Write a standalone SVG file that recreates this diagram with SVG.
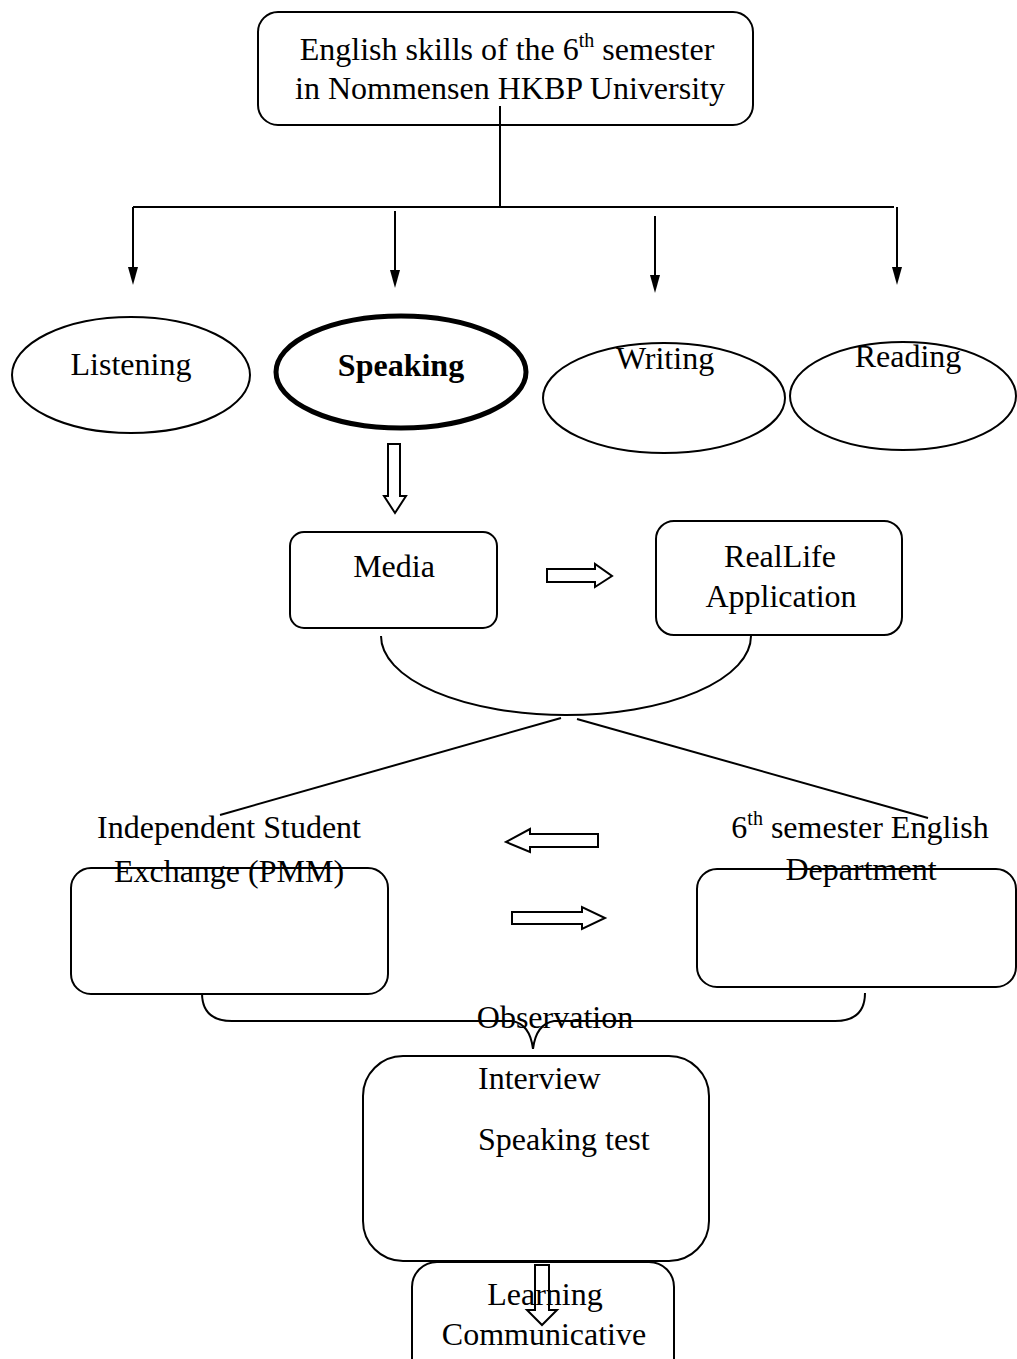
<svg xmlns="http://www.w3.org/2000/svg" width="1017" height="1359" viewBox="0 0 1017 1359">
<style>
text{font-family:"Liberation Serif","Times New Roman",serif;font-size:32px;fill:#000}
.c{text-anchor:middle}
.box{fill:none;stroke:#000;stroke-width:2}
.ln{fill:none;stroke:#000;stroke-width:2}
.hol{fill:#fff;stroke:#000;stroke-width:2}
</style>
<rect width="1017" height="1359" fill="#fff"/>

<g id="connectors">
<line class="ln" x1="500" y1="106" x2="500" y2="207"/>
<line class="ln" x1="133" y1="207" x2="894" y2="207"/>
<line class="ln" x1="133" y1="207" x2="133" y2="267" />
<path d="M128,267 L138,267 L133,285 Z" fill="#000"/>
<line class="ln" x1="395" y1="211" x2="395" y2="270"/>
<path d="M390,270 L400,270 L395,288 Z" fill="#000"/>
<line class="ln" x1="655" y1="216" x2="655" y2="275"/>
<path d="M650,275 L660,275 L655,293 Z" fill="#000"/>
<line class="ln" x1="897" y1="207" x2="897" y2="267"/>
<path d="M892,267 L902,267 L897,285 Z" fill="#000"/>
<polygon class="hol" points="388,444 400,444 400,496 406,496 395,513 384,496 388,496"/>
<polygon class="hol" points="547,569 595,569 595,564 612,576 595,587 595,582 547,582"/>
<path class="ln" d="M381,636 A185,79 0 0 0 751,636"/>
<line class="ln" x1="561" y1="718" x2="220" y2="815"/>
<line class="ln" x1="577" y1="719" x2="928" y2="818"/>
<polygon class="hol" points="598,834 530,834 530,829 506,842 530,852 530,847 598,847"/>
<polygon class="hol" points="512,912 582,912 582,907 605,918 582,929 582,924 512,924"/>
<path class="ln" d="M202,993 Q202,1021 232,1021 L512,1021 Q530,1024 533,1049 Q536,1024 554,1021 L835,1021 Q865,1021 865,993"/>
</g>

<g id="n-top">
<rect class="box" x="258" y="12" width="495" height="113" rx="20"/>
<text class="c" x="507" y="60">English skills of the 6<tspan font-size="20" dy="-13">th</tspan><tspan dy="13"> semester</tspan></text>
<text class="c" x="510" y="99">in Nommensen HKBP University</text>
</g>

<g id="n-listening">
<ellipse class="box" cx="131" cy="375" rx="119" ry="58"/>
<text class="c" x="131" y="375">Listening</text>
</g>
<g id="n-speaking">
<ellipse cx="401" cy="372" rx="125" ry="56" fill="none" stroke="#000" stroke-width="5"/>
<text class="c" x="401" y="376" font-weight="bold">Speaking</text>
</g>
<g id="n-writing">
<ellipse class="box" cx="664" cy="398" rx="121" ry="55"/>
<text class="c" x="665" y="369">Writing</text>
</g>
<g id="n-reading">
<ellipse class="box" cx="903" cy="396" rx="113" ry="54"/>
<text class="c" x="908" y="367">Reading</text>
</g>

<g id="n-media">
<rect class="box" x="290" y="532" width="207" height="96" rx="14"/>
<text class="c" x="394" y="577">Media</text>
</g>
<g id="n-reallife">
<rect class="box" x="656" y="521" width="246" height="114" rx="18"/>
<text class="c" x="780" y="567">RealLife</text>
<text class="c" x="781" y="607">Application</text>
</g>

<g id="n-pmm">
<rect class="box" x="71" y="868" width="317" height="126" rx="20"/>
<text class="c" x="229" y="838">Independent Student</text>
<text class="c" x="229" y="882">Exchange (PMM)</text>
</g>
<g id="n-dept">
<rect class="box" x="697" y="869" width="319" height="118" rx="20"/>
<text class="c" x="860" y="838">6<tspan font-size="20" dy="-13">th</tspan><tspan dy="13"> semester English</tspan></text>
<text class="c" x="861" y="880">Department</text>
</g>

<text class="c" x="555" y="1028">Observation</text>

<g id="n-methods">
<rect class="box" x="363" y="1056" width="346" height="205" rx="40"/>
<text x="478" y="1089">Interview</text>
<text x="478" y="1150">Speaking test</text>
</g>

<g id="n-learning">
<rect class="box" x="412" y="1262" width="262" height="130" rx="25"/>
<text class="c" x="545" y="1305">Learning</text>
<text class="c" x="544" y="1345">Communicative</text>
<polygon points="535,1265 549,1265 549,1310 557,1310 542,1325 527,1310 535,1310" fill="none" stroke="#000" stroke-width="2"/>
</g>
</svg>
